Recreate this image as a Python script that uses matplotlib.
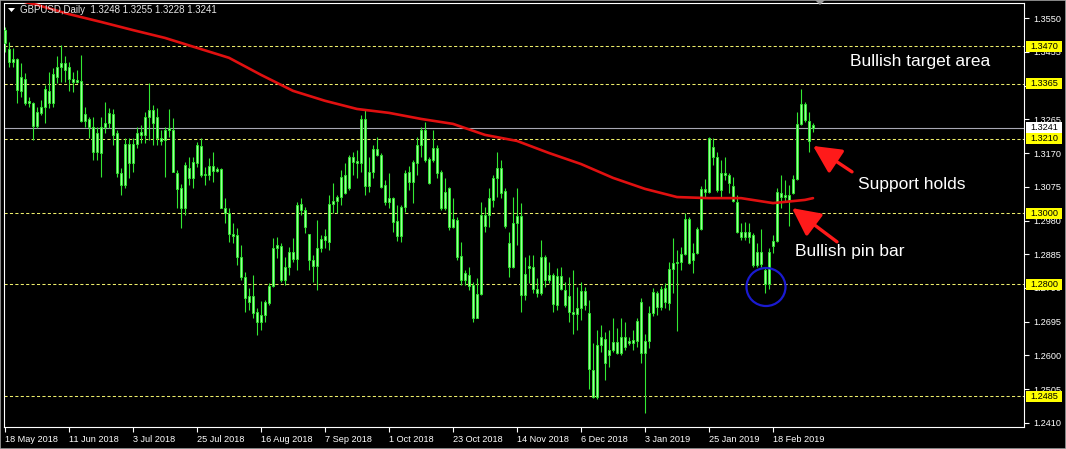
import matplotlib
matplotlib.use("Agg")
import matplotlib.pyplot as plt
import numpy as np
from matplotlib.patches import Rectangle, Ellipse, Polygon
from matplotlib.transforms import blended_transform_factory

# GBPUSD daily candles, 18 May 2018 .. 4 Mar 2019
opens = [
    1.3516, 1.3463, 1.3426, 1.3435, 1.3344, 1.3378, 1.3311, 1.3311, 1.3246, 1.3283,
    1.3300, 1.3344, 1.3311, 1.3384, 1.3412, 1.3423, 1.3412, 1.3378, 1.3370, 1.3373,
    1.3260, 1.3266, 1.3243, 1.3173, 1.3170, 1.3243, 1.3255, 1.3280, 1.3226, 1.3114,
    1.3080, 1.3195, 1.3142, 1.3195, 1.3221, 1.3221, 1.3272, 1.3291, 1.3272, 1.3212,
    1.3207, 1.3235, 1.3235, 1.3114, 1.3071, 1.3015, 1.3128, 1.3100, 1.3142, 1.3189,
    1.3108, 1.3108, 1.3133, 1.3119, 1.3125, 1.3015, 1.3001, 1.2942, 1.2939, 1.2877,
    1.2821, 1.2767, 1.2767, 1.2723, 1.2694, 1.2714, 1.2748, 1.2796, 1.2903, 1.2908,
    1.2812, 1.2849, 1.2891, 1.2872, 1.3027, 1.3010, 1.2942, 1.2869, 1.2852, 1.2903,
    1.2925, 1.2920, 1.3026, 1.3035, 1.3046, 1.3057, 1.3071, 1.3159, 1.3147, 1.3142,
    1.3266, 1.3077, 1.3117, 1.3181, 1.3164, 1.3080, 1.3032, 1.3043, 1.2979, 1.2937,
    1.3018, 1.3117, 1.3088, 1.3142, 1.3192, 1.3235, 1.3153, 1.3150, 1.3184, 1.3117,
    1.3015, 1.3071, 1.2962, 1.2981, 1.2880, 1.2812, 1.2826, 1.2798, 1.2706, 1.2773,
    1.2996, 1.2996, 1.3038, 1.3100, 1.3128, 1.3063, 1.2917, 1.2849, 1.2973, 1.2993,
    1.2770, 1.2846, 1.2849, 1.2787, 1.2776, 1.2877, 1.2812, 1.2827, 1.2742, 1.2824,
    1.2784, 1.2768, 1.2722, 1.2716, 1.2734, 1.2782, 1.2720, 1.2559, 1.2483, 1.2630,
    1.2646, 1.2601, 1.2615, 1.2638, 1.2607, 1.2652, 1.2635, 1.2635, 1.2641, 1.2751,
    1.2607, 1.2640, 1.2720, 1.2776, 1.2736, 1.2790, 1.2748, 1.2843, 1.2860, 1.2863,
    1.2886, 1.2984, 1.2869, 1.2889, 1.2956, 1.3069, 1.3060, 1.3187, 1.3159, 1.3066,
    1.3114, 1.3108, 1.3077, 1.3032, 1.2948, 1.2934, 1.2947, 1.2939, 1.2855, 1.2891,
    1.2841, 1.2801, 1.2908, 1.2922, 1.3057, 1.3046, 1.3052, 1.3057, 1.3097, 1.3252,
    1.3308, 1.3260, 1.3248,
]
highs = [
    1.3525, 1.3482, 1.3466, 1.3438, 1.3423, 1.3395, 1.3328, 1.3314, 1.3300, 1.3319,
    1.3361, 1.3398, 1.3409, 1.3443, 1.3474, 1.3443, 1.3426, 1.3398, 1.3404, 1.3446,
    1.3300, 1.3272, 1.3272, 1.3243, 1.3272, 1.3314, 1.3297, 1.3294, 1.3235, 1.3128,
    1.3212, 1.3212, 1.3212, 1.3243, 1.3249, 1.3286, 1.3367, 1.3305, 1.3297, 1.3235,
    1.3243, 1.3294, 1.3269, 1.3122, 1.3083, 1.3145, 1.3159, 1.3159, 1.3201, 1.3212,
    1.3131, 1.3156, 1.3173, 1.3131, 1.3128, 1.3043, 1.3015, 1.2973, 1.2959, 1.2911,
    1.2835, 1.2790, 1.2826, 1.2734, 1.2753, 1.2756, 1.2804, 1.2931, 1.2933, 1.2917,
    1.2877, 1.2905, 1.2931, 1.3032, 1.3043, 1.3018, 1.2942, 1.2883, 1.2981, 1.2939,
    1.2956, 1.3052, 1.3086, 1.3052, 1.3122, 1.3142, 1.3164, 1.3173, 1.3178, 1.3277,
    1.3294, 1.3159, 1.3192, 1.3215, 1.3170, 1.3094, 1.3114, 1.3046, 1.3024, 1.3024,
    1.3122, 1.3133, 1.3150, 1.3215, 1.3243, 1.3257, 1.3159, 1.3235, 1.3192, 1.3122,
    1.3100, 1.3074, 1.3043, 1.2990, 1.2919, 1.2841, 1.2849, 1.2807, 1.2818, 1.3032,
    1.3018, 1.3071, 1.3108, 1.3173, 1.3150, 1.3071, 1.2948, 1.3046, 1.3071, 1.3029,
    1.2877, 1.2883, 1.2883, 1.2818, 1.2925, 1.2883, 1.2863, 1.2833, 1.2846, 1.2849,
    1.2807, 1.2821, 1.2841, 1.2793, 1.2807, 1.2793, 1.2756, 1.2635, 1.2672, 1.2686,
    1.2666, 1.2672, 1.2706, 1.2677, 1.2706, 1.2694, 1.2652, 1.2672, 1.2706, 1.2762,
    1.2660, 1.2740, 1.2790, 1.2782, 1.2797, 1.2805, 1.2863, 1.2931, 1.2897, 1.2905,
    1.3001, 1.2990, 1.2917, 1.2962, 1.3077, 1.3097, 1.3215, 1.3212, 1.3173, 1.3150,
    1.3159, 1.3114, 1.3103, 1.3052, 1.2973, 1.2976, 1.2973, 1.2945, 1.2917, 1.2956,
    1.2845, 1.2903, 1.2939, 1.3071, 1.3108, 1.3094, 1.3080, 1.3108, 1.3285, 1.3350,
    1.3314, 1.3285, 1.3255,
]
lows = [
    1.3454, 1.3412, 1.3412, 1.3311, 1.3328, 1.3305, 1.3300, 1.3207, 1.3240, 1.3277,
    1.3255, 1.3297, 1.3300, 1.3367, 1.3370, 1.3370, 1.3344, 1.3342, 1.3367, 1.3258,
    1.3243, 1.3212, 1.3150, 1.3150, 1.3103, 1.3226, 1.3240, 1.3192, 1.3103, 1.3052,
    1.3071, 1.3100, 1.3117, 1.3184, 1.3198, 1.3198, 1.3207, 1.3192, 1.3192, 1.3192,
    1.3103, 1.3215, 1.3117, 1.3015, 1.2959, 1.2996, 1.3080, 1.3071, 1.3131, 1.3103,
    1.3080, 1.3094, 1.3089, 1.3117, 1.3015, 1.2973, 1.2919, 1.2917, 1.2855, 1.2812,
    1.2722, 1.2728, 1.2706, 1.2658, 1.2672, 1.2694, 1.2742, 1.2793, 1.2874, 1.2807,
    1.2798, 1.2826, 1.2863, 1.2841, 1.2996, 1.2945, 1.2841, 1.2807, 1.2784, 1.2891,
    1.2903, 1.2897, 1.3001, 1.3001, 1.3024, 1.3055, 1.3066, 1.3108, 1.3100, 1.3117,
    1.3052, 1.3060, 1.3100, 1.3161, 1.3071, 1.3024, 1.3015, 1.2948, 1.2922, 1.2919,
    1.3004, 1.3066, 1.3029, 1.3108, 1.3159, 1.3145, 1.3083, 1.3145, 1.3100, 1.3010,
    1.3010, 1.2953, 1.2959, 1.2869, 1.2798, 1.2798, 1.2784, 1.2694, 1.2706, 1.2770,
    1.2948, 1.2962, 1.3018, 1.3046, 1.3043, 1.2959, 1.2821, 1.2846, 1.2911, 1.2722,
    1.2756, 1.2804, 1.2776, 1.2765, 1.2770, 1.2793, 1.2804, 1.2722, 1.2728, 1.2784,
    1.2737, 1.2694, 1.2661, 1.2672, 1.2700, 1.2728, 1.2506, 1.2480, 1.2477, 1.2610,
    1.2531, 1.2568, 1.2610, 1.2605, 1.2601, 1.2615, 1.2630, 1.2615, 1.2624, 1.2579,
    1.2438, 1.2620, 1.2712, 1.2715, 1.2728, 1.2735, 1.2728, 1.2776, 1.2670, 1.2841,
    1.2883, 1.2857, 1.2832, 1.2886, 1.2953, 1.3043, 1.3057, 1.3136, 1.3060, 1.3046,
    1.3094, 1.3057, 1.3032, 1.2945, 1.2925, 1.2925, 1.2917, 1.2849, 1.2849, 1.2849,
    1.2776, 1.2787, 1.2889, 1.2919, 1.3015, 1.3032, 1.2964, 1.3054, 1.3094, 1.3249,
    1.3257, 1.3173, 1.3228,
]
closes = [
    1.3480, 1.3426, 1.3435, 1.3347, 1.3384, 1.3311, 1.3316, 1.3246, 1.3286, 1.3300,
    1.3350, 1.3311, 1.3392, 1.3412, 1.3423, 1.3404, 1.3378, 1.3370, 1.3375, 1.3260,
    1.3280, 1.3243, 1.3173, 1.3226, 1.3243, 1.3255, 1.3283, 1.3221, 1.3114, 1.3080,
    1.3195, 1.3142, 1.3195, 1.3226, 1.3229, 1.3272, 1.3291, 1.3255, 1.3212, 1.3204,
    1.3235, 1.3240, 1.3117, 1.3069, 1.3015, 1.3136, 1.3100, 1.3145, 1.3192, 1.3108,
    1.3111, 1.3133, 1.3119, 1.3125, 1.3015, 1.3001, 1.2942, 1.2936, 1.2877, 1.2821,
    1.2762, 1.2751, 1.2720, 1.2694, 1.2714, 1.2751, 1.2796, 1.2903, 1.2911, 1.2812,
    1.2849, 1.2891, 1.2872, 1.3024, 1.3010, 1.2962, 1.2869, 1.2852, 1.2903, 1.2928,
    1.2936, 1.3026, 1.3035, 1.3046, 1.3103, 1.3108, 1.3159, 1.3145, 1.3142, 1.3266,
    1.3077, 1.3117, 1.3181, 1.3164, 1.3074, 1.3032, 1.3043, 1.2976, 1.2937, 1.3018,
    1.3114, 1.3088, 1.3145, 1.3192, 1.3235, 1.3150, 1.3086, 1.3184, 1.3114, 1.3015,
    1.3060, 1.2962, 1.2984, 1.2877, 1.2812, 1.2832, 1.2796, 1.2706, 1.2773, 1.2995,
    1.2964, 1.3043, 1.3100, 1.3128, 1.3057, 1.2964, 1.2849, 1.2973, 1.2993, 1.2770,
    1.2829, 1.2852, 1.2787, 1.2776, 1.2877, 1.2812, 1.2827, 1.2745, 1.2824, 1.2787,
    1.2742, 1.2722, 1.2716, 1.2734, 1.2782, 1.2742, 1.2562, 1.2483, 1.2630, 1.2652,
    1.2579, 1.2615, 1.2638, 1.2607, 1.2652, 1.2624, 1.2641, 1.2644, 1.2697, 1.2607,
    1.2640, 1.2720, 1.2779, 1.2736, 1.2787, 1.2750, 1.2843, 1.2860, 1.2863, 1.2886,
    1.2984, 1.2860, 1.2889, 1.2956, 1.3069, 1.3060, 1.3212, 1.3159, 1.3066, 1.3114,
    1.3109, 1.3086, 1.3035, 1.2948, 1.2934, 1.2947, 1.2934, 1.2855, 1.2891, 1.2858,
    1.2801, 1.2891, 1.2922, 1.3060, 1.3046, 1.3052, 1.3038, 1.3097, 1.3252, 1.3308,
    1.3263, 1.3204, 1.3241,
]

# red moving average, read every 8 bars
ma_bars = [0, 8, 16, 24, 32, 40, 48, 56, 64, 72, 80, 88, 96, 104, 112, 120,
           128, 136, 144, 152, 160, 168, 176, 184, 192, 200, 202]
ma_vals = [1.3609, 1.3587, 1.3561, 1.3539, 1.3516, 1.3494, 1.3466, 1.3438, 1.3390,
           1.3345, 1.3317, 1.3294, 1.3283, 1.3266, 1.3252, 1.3221, 1.3204, 1.3170,
           1.3139, 1.3100, 1.3069, 1.3046, 1.3043, 1.3043, 1.3029, 1.3038, 1.3043]

date_labels = ["18 May 2018", "11 Jun 2018", "3 Jul 2018", "25 Jul 2018", "16 Aug 2018",
               "7 Sep 2018", "1 Oct 2018", "23 Oct 2018", "14 Nov 2018", "6 Dec 2018",
               "3 Jan 2019", "25 Jan 2019", "18 Feb 2019"]
price_ticks = [1.3550, 1.3455, 1.3360, 1.3265, 1.3170, 1.3075, 1.2980, 1.2885,
               1.2790, 1.2695, 1.2600, 1.2505, 1.2410]
levels = [1.3470, 1.3365, 1.3210, 1.3000, 1.2800, 1.2485]
last_price = 1.3241

W, H = 1066, 449
fig = plt.figure(figsize=(W / 100, H / 100), dpi=100, facecolor="black")
ax = fig.add_axes([4 / W, 22 / H, 1020 / W, 424 / H], facecolor="black")

o = np.array(opens)
hi = np.array(highs)
lo = np.array(lows)
c = np.array(closes)
idx = np.arange(len(c))

ax.set_xlim(-0.25, 254.75)
ax.set_ylim(1.23987, 1.35923)

# horizontal levels
for lv in levels:
    ax.axhline(lv, color="#eded6a", lw=0.75, ls=(0, (3, 2.2)), zorder=1)
ax.axhline(last_price, color="#a8a8b4", lw=0.8, zorder=1)

# candles
ax.vlines(idx, lo, hi, color="#33e833", lw=0.8, zorder=2)
body_lo = np.minimum(o, c)
body_h = np.maximum(np.abs(c - o), 0.0002)
ax.bar(idx, body_h, bottom=body_lo, width=0.55, color="#9cff9c",
       edgecolor="#2ee82e", linewidth=0.65, zorder=3)

# moving average
ax.plot(ma_bars, ma_vals, color="#e01010", lw=1.9, zorder=4, solid_capstyle="round")

# axes styling
for s in ax.spines.values():
    s.set_color("white")
    s.set_linewidth(0.8)
ax.yaxis.tick_right()
ax.set_yticks(price_ticks)
ax.set_yticklabels([f"{t:.4f}" for t in price_ticks])
ax.set_xticks(np.arange(len(date_labels)) * 16)
ax.set_xticklabels(date_labels)
ax.tick_params(axis="both", colors="white", labelcolor="white", length=3.5, width=0.8,
               labelsize=6.6)
ax.tick_params(axis="y", pad=3)
ax.tick_params(axis="x", pad=2)
for lab in ax.get_xticklabels():
    lab.set_ha("left")
    lab.set_fontfamily("Liberation Sans")
for lab in ax.get_yticklabels():
    lab.set_fontfamily("Liberation Sans")

# price labels on the right (they sit over some axis labels, as in MT4)
tr = blended_transform_factory(ax.transAxes, ax.transData)
box_h = 11 / 3552
for lv in levels + [last_price]:
    fc = "white" if lv == last_price else "#ffff00"
    ax.add_patch(Rectangle((1.002, lv - box_h / 2), 0.0353, box_h, transform=tr,
                           facecolor=fc, edgecolor="none", clip_on=False, zorder=6))
    ax.text(1.0196, lv, f"{lv:.4f}", transform=tr, ha="center", va="center",
            fontsize=6.6, color="black", family="Liberation Sans", zorder=7, clip_on=False)

# title
fig.text(20 / W, 1 - 10 / H, "GBPUSD,Daily  1.3248 1.3255 1.3228 1.3241", color="#e6e6e6",
         fontsize=7, family="Liberation Sans", va="center", ha="left")
fig.patches.append(Polygon([[8 / W, 1 - 8 / H], [15 / W, 1 - 8 / H], [11.5 / W, 1 - 12 / H]],
                           closed=True, transform=fig.transFigure, facecolor="white",
                           edgecolor="none"))
fig.patches.append(Polygon([[815 / W, 1], [825 / W, 1], [820 / W, 1 - 5 / H]],
                           closed=True, transform=fig.transFigure, facecolor="#9a9a9a",
                           edgecolor="none"))

# annotations
txt = dict(color="white", fontsize=12.5, family="Liberation Sans", va="center", ha="left")
ax.text(211.25, 1.3429, "Bullish target area", **txt)
ax.text(213.25, 1.3080, "Support holds", **txt)
ax.text(197.5, 1.2894, "Bullish pin bar", **txt)

arrow = dict(arrowstyle="-|>,head_length=1.0,head_width=0.5", color="#ff1a1a", lw=2.4,
             mutation_scale=17, shrinkA=0, shrinkB=0)
ax.annotate("", xy=(202.0, 1.3190), xytext=(211.75, 1.3117), arrowprops=arrow, zorder=5)
ax.annotate("", xy=(196.75, 1.3015), xytext=(208.0, 1.2920), arrowprops=arrow, zorder=5)

ax.add_patch(Ellipse((190.25, 1.27928), 9.75, 0.0107, facecolor="none",
                     edgecolor="#1a1ad0", lw=1.6, zorder=5))

# window border
fig.patches.append(Rectangle((0, 0), 1, 1, transform=fig.transFigure, facecolor="none",
                             edgecolor="#a0a0a0", lw=1.2))

fig.savefig("out.png", dpi=100, facecolor="black")
